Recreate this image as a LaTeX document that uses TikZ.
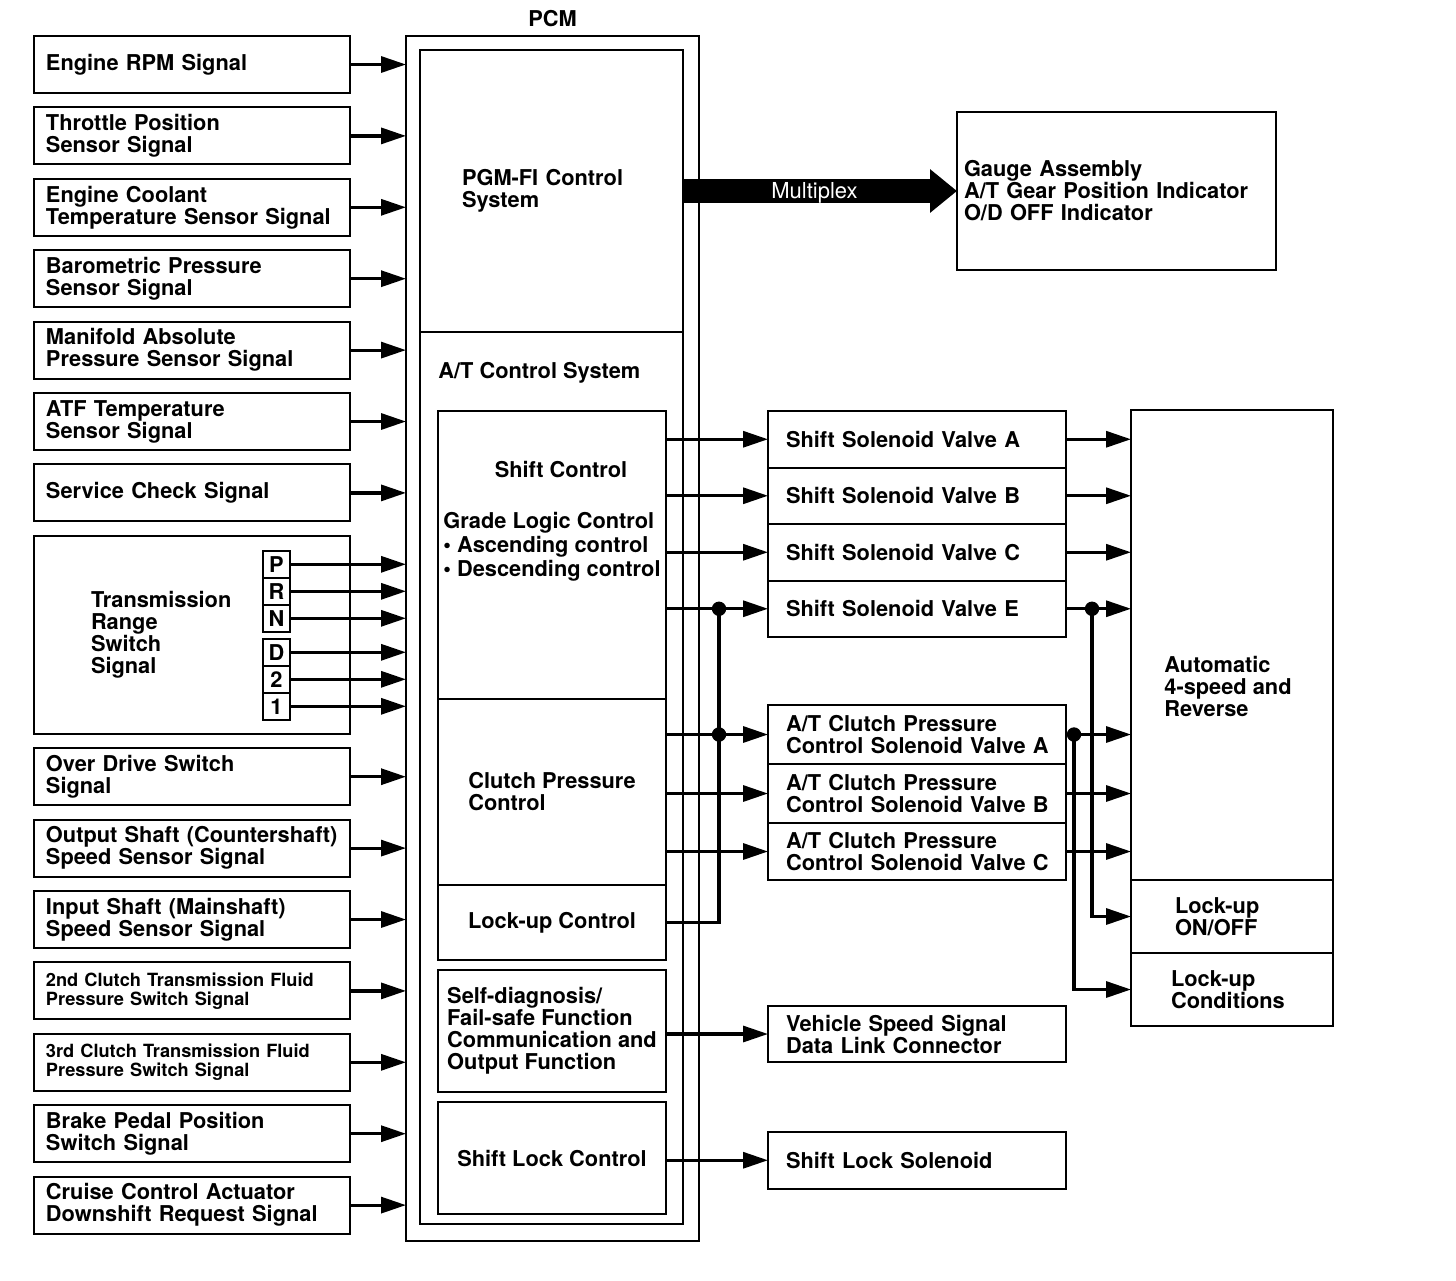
\documentclass[tikz,border=0pt]{standalone}
\usepackage{fontspec}
\setmainfont{TeX Gyre Heros}
\usetikzlibrary{arrows.meta,positioning}

\begin{document}
\begin{tikzpicture}[x=0.5pt,y=-0.5pt,
  font=\bfseries\fontsize{10.9}{11}\selectfont,
  blk/.style={draw,line width=1pt,outer sep=0pt,align=left},
  inbox/.style={blk,text width=146pt,inner xsep=6pt,minimum height=28.5pt},
  smallin/.style={inbox,font=\bfseries\fontsize{9.1}{9.6}\selectfont},
  gear/.style={blk,minimum width=13.5pt,minimum height=13.5pt,inner sep=0pt,align=center},
  ctlbox/.style={blk,minimum width=114pt,inner sep=0pt},
  outbox/.style={blk,text width=131pt,inner xsep=9pt,minimum height=28.25pt},
  sig/.style={line width=1.6pt,-{Triangle[length=12.5pt,width=8pt]}},
  wire/.style={line width=1.6pt},
  mux/.style={line width=12pt,-{Triangle[length=13.5pt,width=21pt]}}]
  \useasboundingbox (0,0) rectangle (1456,1280);

  % input signals
  \node[inbox,anchor=north west] (rpm) at (34,36) {Engine RPM Signal};
  \node[inbox,below=7.2pt of rpm] (tps) {Throttle Position\\Sensor Signal};
  \node[inbox,below=7.2pt of tps] (ect) {Engine Coolant\\Temperature Sensor Signal};
  \node[inbox,below=7.2pt of ect] (baro) {Barometric Pressure\\Sensor Signal};
  \node[inbox,below=7.2pt of baro] (map) {Manifold Absolute\\Pressure Sensor Signal};
  \node[inbox,below=7.2pt of map] (atf) {ATF Temperature\\Sensor Signal};
  \node[inbox,below=7.2pt of atf] (svc) {Service Check Signal};
  \node[inbox,below=7.2pt of svc,text width=101pt,inner xsep=28.5pt,minimum height=99pt] (trs)
    {Transmission\\Range\\Switch\\Signal};
  \node[inbox,below=7.2pt of trs] (od) {Over Drive Switch\\Signal};
  \node[inbox,below=7.2pt of od] (vss) {Output Shaft (Countershaft)\\Speed Sensor Signal};
  \node[inbox,below=7.2pt of vss] (mss) {Input Shaft (Mainshaft)\\Speed Sensor Signal};
  \node[smallin,below=7.2pt of mss] (sw2) {2nd Clutch Transmission Fluid\\Pressure Switch Signal};
  \node[smallin,below=7.2pt of sw2] (sw3) {3rd Clutch Transmission Fluid\\Pressure Switch Signal};
  \node[inbox,below=7.2pt of sw3] (bps) {Brake Pedal Position\\Switch Signal};
  \node[inbox,below=7.2pt of bps] (cca) {Cruise Control Actuator\\Downshift Request Signal};

  % range switch positions
  \node[gear,below left=7.5pt and 30pt of trs.north east] (P) {P};
  \node[gear,below=0pt of P] (R) {R};
  \node[gear,below=0pt of R] (N) {N};
  \node[gear,below=3.5pt of N] (D) {D};
  \node[gear,below=0pt of D] (two) {2};
  \node[gear,below=0pt of two] (one) {1};

  % PCM
  \node[blk,anchor=north west,minimum width=146.5pt,minimum height=602.5pt] (pcm) at (406,36) {};
  \node[above=1pt of pcm] (pcmlbl) {PCM};
  \node[blk,anchor=north west,minimum width=131.5pt,minimum height=587pt] (core) at (420,50) {};
  \node[blk,anchor=north west,text width=89.5pt,inner xsep=21pt,minimum height=141pt] (pgmfi) at (420,50)
    {PGM-FI Control\\System};
  \node[anchor=west,inner sep=0pt] (atlbl) at (438,373) {A/T Control System};
  \node[ctlbox,anchor=north west,minimum height=144pt] (shiftbox) at (438,411) {};
  \node[inner sep=0pt] (shifthead) at (561,470) {Shift Control};
  \node[anchor=west,align=left,inner sep=0pt,font=\bfseries\fontsize{10.9}{12}\selectfont] (gradetxt) at (443,547)
    {Grade Logic Control\\\textbullet\ Ascending control\\\textbullet\ Descending control};
  \node[ctlbox,below=0pt of shiftbox,minimum height=93pt] (clutchbox) {Clutch Pressure\\Control};
  \node[ctlbox,below=0pt of clutchbox,minimum height=37.5pt] (lockbox) {Lock-up Control};
  \node[ctlbox,below=5pt of lockbox,minimum height=61pt] (selfdiag)
    {Self-diagnosis/\\Fail-safe Function\\Communication and\\Output Function};
  \node[ctlbox,below=5pt of selfdiag,minimum height=56pt] (shiftlock) {Shift Lock Control};

  % outputs
  \node[blk,anchor=north west,text width=152.5pt,inner xsep=3.5pt,minimum height=79pt] (gauge) at (957,112)
    {Gauge Assembly\\A/T Gear Position Indicator\\O/D OFF Indicator};
  \node[outbox,anchor=north west] (ssvA) at (768,411) {Shift Solenoid Valve A};
  \node[outbox,below=0pt of ssvA] (ssvB) {Shift Solenoid Valve B};
  \node[outbox,below=0pt of ssvB] (ssvC) {Shift Solenoid Valve C};
  \node[outbox,below=0pt of ssvC] (ssvE) {Shift Solenoid Valve E};
  \node[outbox,anchor=north west,minimum height=29.5pt] (cpcA) at (768,705)
    {A/T Clutch Pressure\\\mbox{Control Solenoid Valve A}};
  \node[outbox,below=0pt of cpcA,minimum height=29.5pt] (cpcB)
    {A/T Clutch Pressure\\\mbox{Control Solenoid Valve B}};
  \node[outbox,below=0pt of cpcB,minimum height=28.5pt] (cpcC)
    {A/T Clutch Pressure\\\mbox{Control Solenoid Valve C}};
  \node[outbox,anchor=north west,minimum height=28pt] (vspd) at (768,1006) {Vehicle Speed Signal\\Data Link Connector};
  \node[outbox,anchor=north west] (sls) at (768,1132) {Shift Lock Solenoid};

  % transmission
  \node[blk,anchor=north west,minimum width=101pt,minimum height=235pt] (auto) at (1131,410) {};
  \node[anchor=west,align=left,inner sep=0pt] (autotxt) at (1164,686) {Automatic\\4-speed and\\Reverse};
  \node[blk,below=0pt of auto,text width=57pt,inner xsep=22pt,minimum height=36.5pt] (lockon) {Lock-up\\ON/OFF};
  \node[blk,below=0pt of lockon,text width=61pt,inner xsep=20pt,minimum height=36.5pt] (lockcond) {Lock-up\\Conditions};

  % connectors
  \foreach \n in {rpm,tps,ect,baro,map,atf,svc,P,R,N,D,two,one,od,vss,mss,sw2,sw3,bps,cca}
    \draw[sig] (\n.east) -- (\n.east -| pcm.west);
  \draw[mux] (pgmfi.east) -- node[pos=0.48,yshift=-1pt,text=white,font=\mdseries\fontsize{11}{11}\selectfont] (muxlbl) {Multiplex} (gauge.west);
  \foreach \s in {ssvA,ssvB,ssvC,ssvE}
    \draw[sig] (shiftbox.east |- \s.west) -- (\s.west);
  \foreach \s in {cpcA,cpcB,cpcC}
    \draw[sig] (clutchbox.east |- \s.west) -- (\s.west);
  \draw[sig] (selfdiag.east |- vspd.west) -- (vspd.west);
  \draw[sig] (shiftlock.east |- sls.west) -- (sls.west);
  \foreach \s in {ssvA,ssvB,ssvC,ssvE,cpcA,cpcB,cpcC}
    \draw[sig] (\s.east) -- (\s.east -| auto.west);

  % lock-up branches
  \coordinate (busL) at (719,0);
  \coordinate (busR1) at (1092,0);
  \coordinate (busR2) at (1074,0);
  \coordinate (jE) at (ssvE.west -| busL);
  \coordinate (jCA) at (cpcA.west -| busL);
  \coordinate (kE) at (ssvE.east -| busR1);
  \coordinate (kCA) at (cpcA.east -| busR2);
  \draw[wire] (lockbox.east) -| (jE);
  \draw[sig] (kE) |- (lockon.west);
  \draw[sig] (kCA) |- (lockcond.west);
  \foreach \j in {jE,jCA,kE,kCA}
    \fill (\j) circle (3.6pt);
\end{tikzpicture}
\end{document}
